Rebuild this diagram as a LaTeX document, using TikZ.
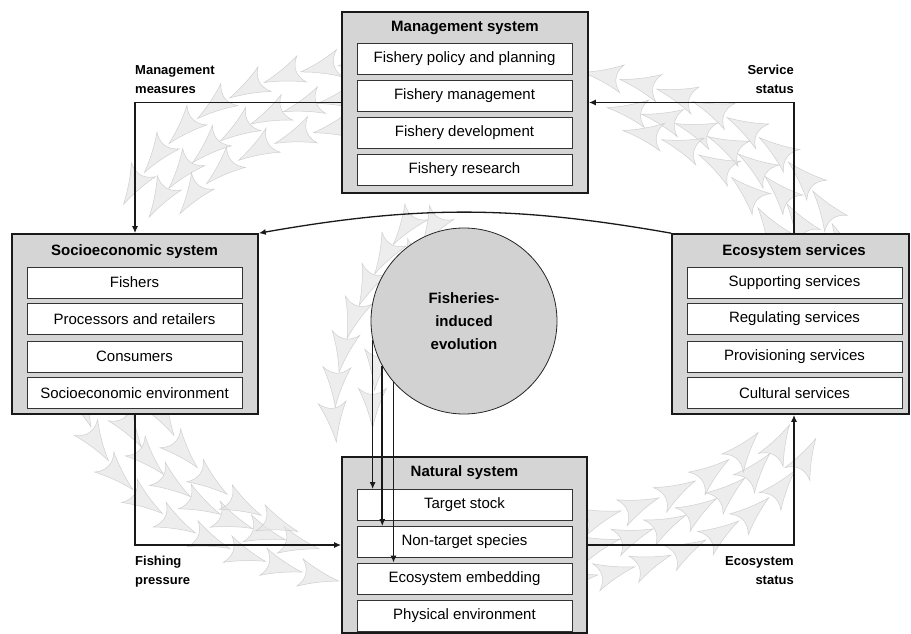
\documentclass[tikz,border=0pt]{standalone}
\usepackage{fontspec}
\setmainfont{Liberation Sans}
\usetikzlibrary{arrows.meta,decorations.markings,calc}
\begin{document}
\begin{tikzpicture}[x=1pt,y=-1pt,
  outer/.style={draw=black!90, line width=1.6pt, fill=gray!33, inner sep=0pt},
  item/.style={draw=black!80, line width=0.7pt, fill=white, minimum width=215pt, minimum height=31pt, inner sep=0pt, font=\fontsize{15}{18}\selectfont},
  ttl/.style={font=\fontsize{15}{18}\selectfont\bfseries, inner sep=0pt},
  lbl/.style={font=\fontsize{13}{19}\selectfont\bfseries, inner sep=0pt},
  conn/.style={draw=black!90, line width=1.7pt, -{Latex[length=7pt,width=6pt]}},
  dartsty/.style={fill=gray!20, draw=gray!45, line width=0.5pt, fill opacity=0.7, draw opacity=0.8},
  band/.style 2 args={decorate, decoration={markings,
     mark=between positions #1 and 1 step #2 with {\path[dartsty] (0,0) .. controls (-14,3) and (-28,8) .. (-40,14) .. controls (-32,5) and (-32,-5) .. (-40,-14) .. controls (-28,-8) and (-14,-3) .. (0,0) -- cycle;}}}
]
\useasboundingbox (0,0) rectangle (911,634);

% background flow of arrowheads
% top-left band (management -> socioeconomic)
\path[band={22pt}{38pt}] (360,64) .. controls (250,70) and (165,118) .. (112,226);
\path[band={8pt}{35pt}] (360,98) .. controls (255,106) and (185,148) .. (142,230);
\path[band={32pt}{40pt}] (345,128) .. controls (265,136) and (205,170) .. (172,226);
% top-right band (ecosystem -> management)
\path[band={20pt}{38pt}] (840,242) .. controls (805,150) and (720,94) .. (580,72);
\path[band={8pt}{35pt}] (806,242) .. controls (775,160) and (705,118) .. (580,104);
\path[band={30pt}{40pt}] (772,234) .. controls (745,172) and (690,138) .. (605,128);
% bottom-left band (socioeconomic -> natural)
\path[band={20pt}{38pt}] (85,408) .. controls (108,500) and (200,552) .. (352,584);
\path[band={8pt}{35pt}] (124,408) .. controls (148,490) and (230,532) .. (352,556);
\path[band={30pt}{40pt}] (162,408) .. controls (182,470) and (240,512) .. (305,534);
% bottom-right band (natural -> ecosystem)
\path[band={20pt}{38pt}] (578,578) .. controls (700,562) and (794,500) .. (824,420);
\path[band={8pt}{35pt}] (578,548) .. controls (680,532) and (762,482) .. (792,420);
\path[band={30pt}{40pt}] (592,518) .. controls (670,502) and (740,462) .. (766,422);
% inner band left of the circle
\path[band={20pt}{38pt}] (432,230) .. controls (392,290) and (366,370) .. (374,460);
\path[band={8pt}{35pt}] (398,238) .. controls (352,300) and (326,380) .. (338,454);

% systems
\node[outer, minimum width=246pt, minimum height=181pt] (mgmt) at (465,102.5) {};
\node[ttl] (mt) at (465,28) {Management system};
\node[item] (m1) at (464.5,58.5) {Fishery policy and planning};
\node[item] (m2) at (464.5,95.5) {Fishery management};
\node[item] (m3) at (464.5,132.5) {Fishery development};
\node[item] (m4) at (464.5,170) {Fishery research};

\node[outer, minimum width=246pt, minimum height=180pt] (socio) at (135,324) {};
\node[ttl] (st) at (134.5,252) {Socioeconomic system};
\node[item] (s1) at (134.5,282.5) {Fishers};
\node[item] (s2) at (134.5,319) {Processors and retailers};
\node[item] (s3) at (134.5,356.5) {Consumers};
\node[item] (s4) at (134.5,393) {Socioeconomic environment};

\node[outer, minimum width=237pt, minimum height=180pt] (eco) at (790.5,324) {};
\node[ttl] (et) at (794,252) {Ecosystem services};
\node[item] (e1) at (794.5,282.5) {Supporting services};
\node[item] (e2) at (794.5,319) {Regulating services};
\node[item] (e3) at (794.5,356.5) {Provisioning services};
\node[item] (e4) at (794.5,393) {Cultural services};

\node[outer, minimum width=245pt, minimum height=176pt] (nat) at (464.5,545) {};
\node[ttl] (nt) at (464.5,473) {Natural system};
\node[item] (n1) at (464.5,505) {Target stock};
\node[item] (n2) at (464.5,542) {Non-target species};
\node[item] (n3) at (464.5,578.5) {Ecosystem embedding};
\node[item] (n4) at (464.5,615.5) {Physical environment};

\node[circle, draw=black!85, line width=0.8pt, fill=gray!35, minimum size=186pt, inner sep=0pt,
      align=center, font=\fontsize{15}{23}\selectfont\bfseries] (circ) at (464,321) {Fisheries-\\induced\\evolution};

% connectors
\draw[conn] (mgmt.west) -| (socio.north);
\draw[conn] (et |- eco.north) |- (mgmt.east);
\draw[conn] (socio.south) |- (nat.west);
\draw[conn] (nat.east) -| (et |- eco.south);
\draw[conn, line width=1.3pt] (eco.north west) to[bend right=10] (socio.north east);
\draw[conn] (circ.192) -- (circ.192 |- n1.north);
\draw[conn] (circ.209.4) -- (circ.209.4 |- n2.north);
\draw[conn] (circ.221.2) -- (circ.221.2 |- n3.north);

% labels
\node[lbl, align=left, anchor=south west] (lmm) at ([yshift=9pt]mgmt.west -| socio.north) {Management\\measures};
\node[lbl, align=right, anchor=south east] (lss) at ([yshift=9pt]mgmt.east -| et) {Service\\status};
\node[lbl, align=left, anchor=north west] (lfp) at ([yshift=-11pt]nat.west -| socio.south) {Fishing\\pressure};
\node[lbl, align=right, anchor=north east] (les) at ([yshift=-11pt]nat.east -| et) {Ecosystem\\status};
\end{tikzpicture}
\end{document}
